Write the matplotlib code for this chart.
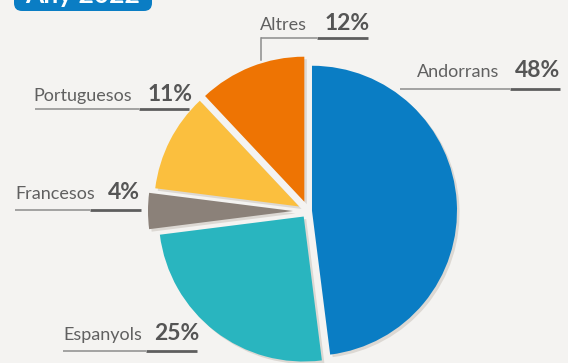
import matplotlib
matplotlib.use("Agg")
import matplotlib.pyplot as plt
from matplotlib.patches import FancyBboxPatch
import matplotlib.patheffects as pe

# Population by nationality, 2022 (%)
categories = ["Andorrans", "Espanyols", "Francesos", "Portuguesos", "Altres"]
values = [48, 25, 4, 11, 12]
colors = ["#0a7dc4", "#29b5bf", "#8b8179", "#fbbf3e", "#ee7403"]
title = "Any 2022"

W, H = 568, 363
BG = "#f4f3f1"
NAME_COLOR = "#606060"
PCT_COLOR = "#555555"

fig = plt.figure(figsize=(W / 100, H / 100), dpi=100, facecolor=BG)
ax = fig.add_axes([0, 0, 1, 1])
ax.set_facecolor(BG)


def Y(y):
    # pixel row measured from the top -> data y
    return H - y


cx, cy, r = 308, 211, 145
# slice offsets from the centre, in pixels
offsets = [4, 7, 15, 10, 10]
wedges, _ = ax.pie(values, colors=colors, startangle=90, counterclock=False,
                   explode=offsets, center=(cx, Y(cy)), radius=r,
                   wedgeprops=dict(linewidth=0), frame=True)
for w in wedges:
    w.set_path_effects([pe.SimplePatchShadow(offset=(1.8, -1.8), shadow_rgbFace="#dcd8d3",
                                             alpha=1.0), pe.Normal()])

ax.set_xlim(0, W)
ax.set_ylim(0, H)
ax.set_aspect("equal")
ax.axis("off")

# label layout: name x, pct right x, baseline y, underline y, line start, split, line end
layout = {
    "Andorrans":   (417, 560, 77, 89, 400, 510, 560),
    "Altres":      (260, 370, 30, 38, 261, 317, 368),
    "Portuguesos": (33, 193, 101, 109, 35, 139, 189),
    "Francesos":   (15, 140, 199, 210, 15, 90, 141),
    "Espanyols":   (63, 199, 340, 351, 63, 146, 197),
}

for cat, val in zip(categories, values):
    nx, px, by, uy, l0, ls, l1 = layout[cat]
    ax.text(nx, Y(by), cat, family="Lato", fontsize=13, color=NAME_COLOR,
            ha="left", va="baseline")
    ax.text(px, Y(by), f"{val}%", family="Lato", fontweight="bold", fontsize=16.5,
            color=PCT_COLOR, ha="right", va="baseline")
    ax.plot([l0, ls], [Y(uy), Y(uy)], color="#8c8c8c", lw=1.1, solid_capstyle="butt")
    ax.plot([ls, l1], [Y(uy), Y(uy)], color="#5e5e5e", lw=2.0, solid_capstyle="butt")

# leader from the "Altres" label down to its slice
ax.plot([261, 261], [Y(38), Y(60)], color="#8c8c8c", lw=1.1)

# title badge
badge = FancyBboxPatch((14, Y(11)), 138, 40, boxstyle="round,pad=0,rounding_size=8",
                       facecolor="#0a7dc4", edgecolor="none")
ax.add_patch(badge)
ax.text(83, Y(3), title, family="Lato", fontweight="bold", fontsize=19,
        color="white", ha="center", va="baseline")

fig.savefig("out.png", dpi=100, facecolor=BG)
